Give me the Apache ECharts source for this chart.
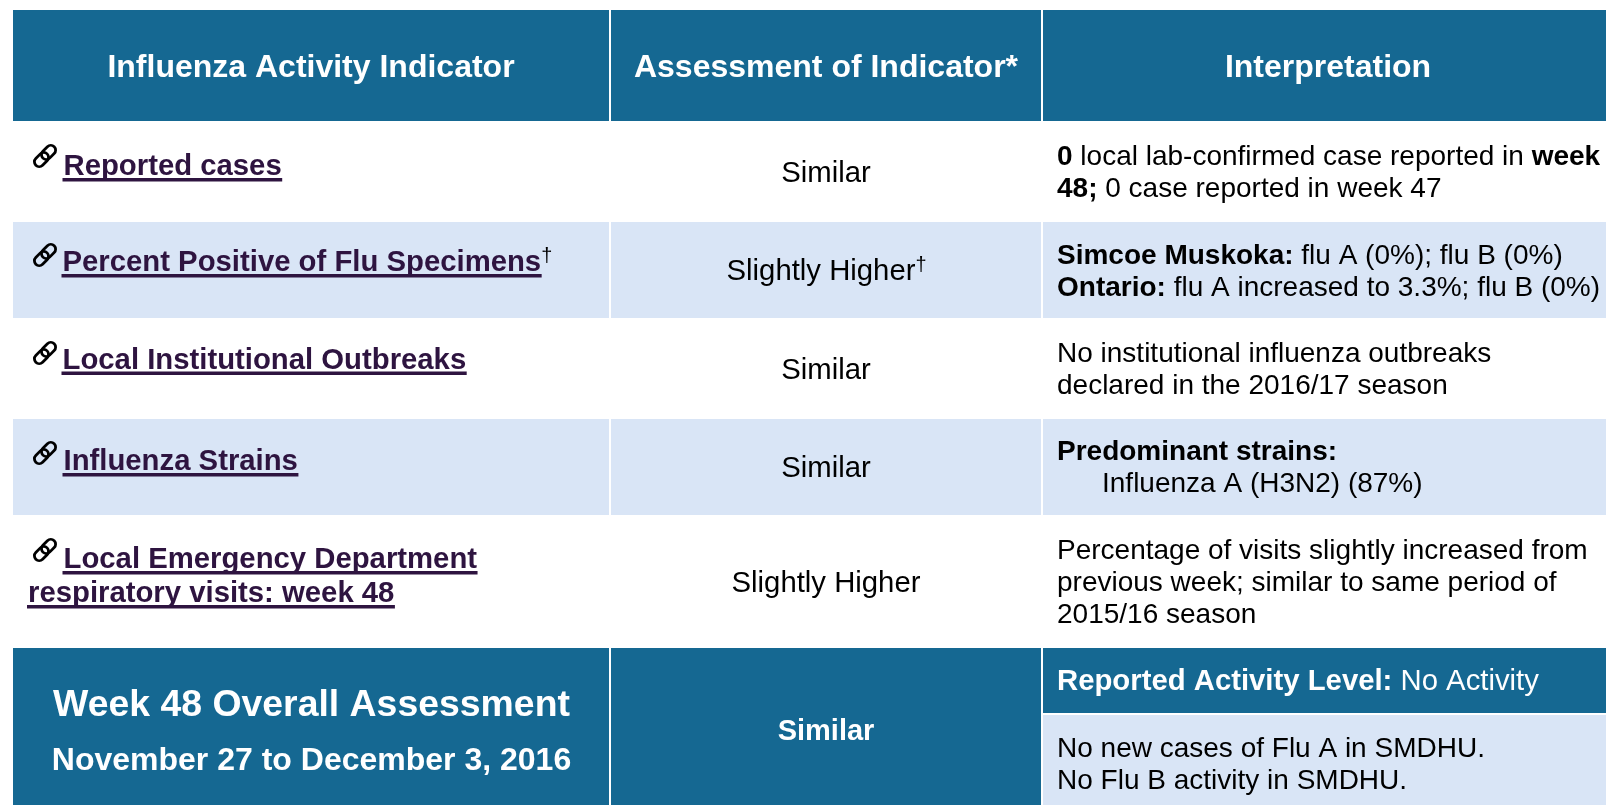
<!DOCTYPE html>
<html lang="en">
<head>
    <meta charset="UTF-8">
    <title>Influenza Activity Indicator</title>
    <script src="https://cdn.jsdelivr.net/npm/echarts@6/dist/echarts.min.js"></script>
    <style>
        html, body { margin: 0; padding: 0; background: #fff; }
        #main { width: 1606px; height: 805px; }
    </style>
</head>
<body>
<div id="main"></div>
<script>
    // table content
    var headers = ['Influenza Activity Indicator', 'Assessment of Indicator*', 'Interpretation'];
    var indicators = [
        ['Reported cases'],
        ['Percent Positive of Flu Specimens'],
        ['Local Institutional Outbreaks'],
        ['Influenza Strains'],
        ['Local Emergency Department', 'respiratory visits: week 48']
    ];
    var indicatorDagger = [false, true, false, false, false];
    var assessments = ['Similar', 'Slightly Higher', 'Similar', 'Similar', 'Slightly Higher'];
    var assessmentDagger = [false, true, false, false, false];
    var interpretations = [
        ['{b|0} local lab-confirmed case reported in {b|week}', '{b|48;} 0 case reported in week 47'],
        ['{b|Simcoe Muskoka:} flu A (0%); flu B (0%)', '{b|Ontario:} flu A increased to 3.3%; flu B (0%)'],
        ['No institutional influenza outbreaks', 'declared in the 2016/17 season'],
        ['{b|Predominant strains:}', 'Influenza A (H3N2) (87%)'],
        ['Percentage of visits slightly increased from', 'previous week; similar to same period of', '2015/16 season']
    ];
    var overallTitle = 'Week 48 Overall Assessment';
    var overallDates = 'November 27 to December 3, 2016';
    var overallAssessment = 'Similar';
    var activityLevel = '{b|Reported Activity Level:} No Activity';
    var overallNotes = ['No new cases of Flu A in SMDHU.', 'No Flu B activity in SMDHU.'];

    // layout of the table, in axis units
    var columnStarts = [13, 611, 1043];
    var columnEnds = [609, 1041, 1606];
    var rowEdges = [10, 121, 222, 318, 419, 515, 648, 805];
    var activitySplit = [713, 715];
    var indicatorX = [[63.5], [62.5], [62.5], [63.5], [63.5, 28]];
    var indicatorY = [[167], [263], [360.5], [462], [560, 594]];
    var iconY = [156, 255, 353, 453, 550];
    var interpretationY = [[157.5, 189.5], [256, 288], [354, 386], [452.5, 484.5], [551, 583, 615]];
    var interpretationX = [[1057, 1057], [1057, 1057], [1057, 1057], [1057, 1102], [1057, 1057, 1057]];

    var BLUE = '#156892';
    var LIGHT = '#D9E5F6';
    var LINK = '#2E1440';
    var FONT = '"Liberation Sans", Arial, sans-serif';

    var measureCtx = document.createElement('canvas').getContext('2d');
    function textWidth(text, size, weight) {
        measureCtx.font = weight + ' ' + size + 'px ' + FONT;
        return measureCtx.measureText(text).width;
    }

    // background cells: x0, x1, y0, y1, colour
    var cells = [];
    for (var c = 0; c < 3; c++) {
        cells.push([columnStarts[c], columnEnds[c], rowEdges[0], rowEdges[1], BLUE]);
        cells.push([columnStarts[c], columnEnds[c], rowEdges[2], rowEdges[3], LIGHT]);
        cells.push([columnStarts[c], columnEnds[c], rowEdges[4], rowEdges[5], LIGHT]);
    }
    cells.push([columnStarts[0], columnEnds[0], rowEdges[6], rowEdges[7], BLUE]);
    cells.push([columnStarts[1], columnEnds[1], rowEdges[6], rowEdges[7], BLUE]);
    cells.push([columnStarts[2], columnEnds[2], rowEdges[6], activitySplit[0], BLUE]);
    cells.push([columnStarts[2], columnEnds[2], activitySplit[1], rowEdges[7], LIGHT]);

    // every line of text becomes one row here
    var textRows = [];
    function addText(text, x, y, size, opts) {
        opts = opts || {};
        textRows.push({
            text: text, x: x, y: y, size: size,
            color: opts.color || '#000',
            weight: opts.weight || 'normal',
            align: opts.align || 'left',
            link: !!opts.link,
            dagger: !!opts.dagger
        });
    }

    var centers = [311, 826, 1328];
    headers.forEach(function (h, i) {
        addText(h, centers[i], 68.5, 32, {color: '#fff', weight: 'bold', align: 'center'});
    });
    indicators.forEach(function (lines, i) {
        lines.forEach(function (line, j) {
            addText(line, indicatorX[i][j], indicatorY[i][j], 29.3, {
                color: LINK, weight: 'bold', link: true, dagger: indicatorDagger[i]
            });
        });
    });
    assessments.forEach(function (a, i) {
        var shift = assessmentDagger[i] ? -5 : 0;
        addText(a, centers[1] + shift, (rowEdges[i + 1] + rowEdges[i + 2]) / 2 + 2, 29.3, {align: 'center', dagger: assessmentDagger[i]});
    });
    interpretations.forEach(function (lines, i) {
        lines.forEach(function (line, j) {
            addText(line, interpretationX[i][j], interpretationY[i][j], 28);
        });
    });
    addText(overallTitle, centers[0] + 0.5, 706, 37.4, {color: '#fff', weight: 'bold', align: 'center'});
    addText(overallDates, centers[0] + 0.5, 761, 32, {color: '#fff', weight: 'bold', align: 'center'});
    addText(overallAssessment, centers[1], 732, 29, {color: '#fff', weight: 'bold', align: 'center'});
    addText(activityLevel, 1057, 682, 29.3, {color: '#fff'});
    addText(overallNotes[0], 1057, 749.5, 28);
    addText(overallNotes[1], 1057, 781.5, 28);

    function renderCell(params, api) {
        var a = api.coord([api.value(0), api.value(2)]);
        var b = api.coord([api.value(1), api.value(3)]);
        return {
            type: 'rect',
            shape: {x: a[0], y: a[1], width: b[0] - a[0], height: b[1] - a[1]},
            style: {fill: cells[params.dataIndex][4]}
        };
    }

    function renderText(params, api) {
        var row = textRows[params.dataIndex];
        var p = api.coord([api.value(0), api.value(1)]);
        var children = [{
            type: 'text',
            style: {
                text: row.text, x: p[0], y: p[1],
                fill: row.color,
                fontFamily: FONT, fontSize: row.size, fontWeight: row.weight,
                align: row.align, verticalAlign: 'middle',
                rich: {b: {fontFamily: FONT, fontSize: row.size, fontWeight: 'bold', fill: row.color}}
            }
        }];
        var w = textWidth(row.text, row.size, row.weight);
        var left = row.align === 'center' ? p[0] - w / 2 : p[0];
        if (row.link) {
            children.push({
                type: 'rect',
                shape: {x: left - 1, y: p[1] + 11, width: w + 1.5, height: 3.6},
                style: {fill: LINK}
            });
        }
        if (row.dagger) {
            children.push({
                type: 'text',
                style: {
                    text: '\u2020', x: left + w, y: p[1] - 7,
                    fill: '#000', fontFamily: FONT, fontSize: 20,
                    align: 'left', verticalAlign: 'middle'
                }
            });
        }
        return {type: 'group', children: children};
    }

    function renderIcon(params, api) {
        var p = api.coord([45, api.value(0)]);
        var link = function (dx) {
            return {
                type: 'rect',
                shape: {x: dx - 8, y: -4.8, width: 16, height: 9.6, r: 4.8},
                style: {fill: 'none', stroke: '#000', lineWidth: 2.8}
            };
        };
        return {
            type: 'group', x: p[0], y: p[1], rotation: Math.PI / 4,
            children: [link(-5), link(5)]
        };
    }

    var chart = echarts.init(document.getElementById('main'));
    chart.setOption({
        animation: false,
        backgroundColor: '#fff',
        grid: {left: 0, right: 0, top: 0, bottom: 0},
        tooltip: {show: false},
        xAxis: {type: 'value', min: 0, max: 1606, show: false},
        yAxis: {type: 'value', min: 0, max: 805, inverse: true, show: false},
        series: [
            {type: 'custom', silent: true, clip: false, renderItem: renderCell, data: cells.map(function (c) { return c.slice(0, 4); })},
            {type: 'custom', silent: true, clip: false, renderItem: renderIcon, data: iconY.map(function (y) { return [y]; }), encode: {y: 0}},
            {type: 'custom', silent: true, clip: false, renderItem: renderText, data: textRows.map(function (t) { return [t.x, t.y]; })}
        ]
    });
</script>
</body>
</html>
